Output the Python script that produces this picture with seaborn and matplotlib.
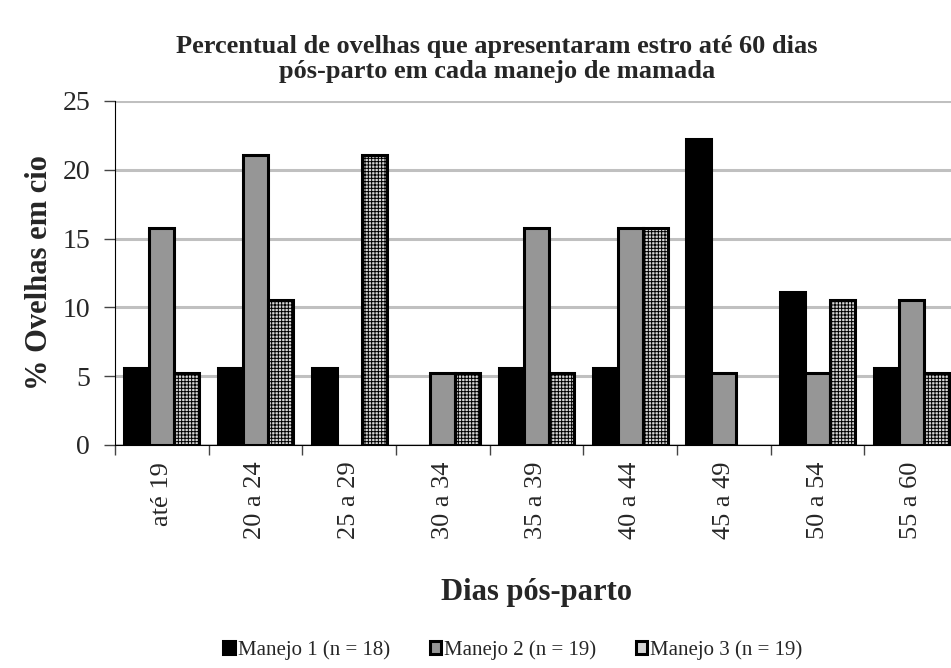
import pandas as pd
import matplotlib.pyplot as plt
import seaborn as sns

# Dados
dias = ["até 19", "20 a 24", "25 a 29", "30 a 34", "35 a 39",
        "40 a 44", "45 a 49", "50 a 54", "55 a 60"]
manejos = ["Manejo 1 (n = 18)", "Manejo 2 (n = 19)", "Manejo 3 (n = 19)"]
manejo1 = [5.56, 5.56, 5.56, 0.0, 5.56, 5.56, 22.22, 11.11, 5.56]
manejo2 = [15.79, 21.05, 0.0, 5.26, 15.79, 15.79, 5.26, 5.26, 10.53]
manejo3 = [5.26, 10.53, 21.05, 5.26, 5.26, 15.79, 0.0, 10.53, 5.26]

df = pd.DataFrame({
    "dias": dias * 3,
    "manejo": [manejos[0]] * 9 + [manejos[1]] * 9 + [manejos[2]] * 9,
    "pct": manejo1 + manejo2 + manejo3,
})

sns.set_style("white")
plt.rcParams["font.family"] = ["Liberation Serif", "DejaVu Serif"]
plt.rcParams["hatch.color"] = "#6a6a6a"
plt.rcParams["hatch.linewidth"] = 0.7

fig = plt.figure(figsize=(9.51, 6.68), dpi=100)
ax = fig.add_axes([115 / 951, 1 - 445 / 668, 843 / 951, 344 / 668])

cores = ["#000000", "#969696", "#d4d4d4"]
sns.barplot(data=df, x="dias", y="pct", hue="manejo", palette=cores,
            edgecolor="black", linewidth=2.2, saturation=1, width=0.8, ax=ax)

# padrão quadriculado do manejo 3
for barra in ax.containers[2]:
    barra.set_hatch("+++++")
# barras de altura zero não aparecem
for cont in ax.containers:
    for barra in cont:
        if barra.get_height() == 0:
            barra.set_visible(False)

ax.set_ylim(0, 25)
ax.set_xlim(-0.5, 8.5)
ax.set_yticks([0, 5, 10, 15, 20, 25])
ax.yaxis.grid(True, color="#c0c0c0", linewidth=2.2)
ax.set_axisbelow(True)
for lado in ["top", "right"]:
    ax.spines[lado].set_visible(False)
ax.spines["left"].set_color("black")
ax.spines["bottom"].set_color("black")

ax.tick_params(axis="y", which="major", direction="out", length=8, width=1,
               color="#444444", labelsize=20, pad=10, left=True)
ax.set_xticks(range(9))
ax.set_xticklabels(dias, rotation=90, fontsize=19)
ax.tick_params(axis="x", which="major", length=0, pad=12)
ax.set_xticks([i + 0.5 for i in range(-1, 9)], minor=True)
ax.tick_params(axis="x", which="minor", direction="out", length=7, width=1,
               color="#444444", bottom=True)

ax.set_xlabel("Dias pós-parto", fontsize=22, fontweight="bold", labelpad=28)
ax.set_ylabel("% Ovelhas em cio", fontsize=22, fontweight="bold", labelpad=6)
fig.suptitle("Percentual de ovelhas que apresentaram estro até 60 dias\npós-parto em cada manejo de mamada",
             x=497 / 951, y=0.948, fontsize=19, fontweight="bold", linespacing=1.15)

ax.legend(loc="center", bbox_to_anchor=(513 / 951, 1 - 650 / 668), ncol=3,
          frameon=False, fontsize=15, handlelength=0.55, handleheight=0.55,
          handletextpad=0.15, columnspacing=1.9, bbox_transform=fig.transFigure)

fig.savefig("out.png", dpi=100)
